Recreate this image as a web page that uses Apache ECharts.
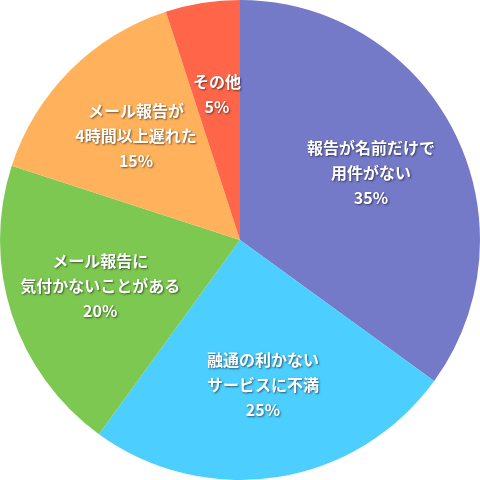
<!DOCTYPE html>
<html><head><meta charset="utf-8">
<script src="https://cdn.jsdelivr.net/npm/echarts@6/dist/echarts.min.js"></script>
<style>html,body{margin:0;padding:0;background:#fff}#c{width:480px;height:480px}</style>
</head><body><div id="c"></div>
<script>
const categories = ["報告が名前だけで\n用件がない", "融通の利かない\nサービスに不満", "メール報告に\n気付かないことがある", "メール報告が\n4時間以上遅れた", "その他"];
const values = [35, 25, 20, 15, 5];
const colors = ["#7479C8", "#4CCEFF", "#7DC851", "#FFB25B", "#FF6549"];

const chart = echarts.init(document.getElementById('c'));
const data = categories.map((n, i) => ({ name: n, value: values[i], itemStyle: { color: colors[i] } }));
chart.setOption({
  animation: false,
  series: [
    {
      type: 'pie', center: [240, 240], radius: [0, 240], startAngle: 90, clockwise: true,
      label: { show: false }, labelLine: { show: false }, silent: true,
      itemStyle: { borderWidth: 0 },
      data: data
    },
    {
      type: 'pie', center: [240, 240], radius: [48, 240], startAngle: 90, clockwise: true,
      silent: true, labelLine: { show: false }, avoidLabelOverlap: false,
      labelLayout: { hideOverlap: false },
      itemStyle: { color: 'rgba(0,0,0,0)', borderWidth: 0 },
      label: {
        show: true, position: 'inside', formatter: '{b}\n{c}%',
        color: '#fff', fontSize: 16, fontWeight: 'bold', lineHeight: 25,
        fontFamily: '"Noto Sans CJK JP", sans-serif',
        textShadowColor: 'rgba(0,0,0,0.55)', textShadowBlur: 2, textShadowOffsetX: 1, textShadowOffsetY: 1,
        textBorderWidth: 0
      },
      data: categories.map((n, i) => ({ name: n, value: values[i] }))
    }
  ]
});
</script></body></html>
